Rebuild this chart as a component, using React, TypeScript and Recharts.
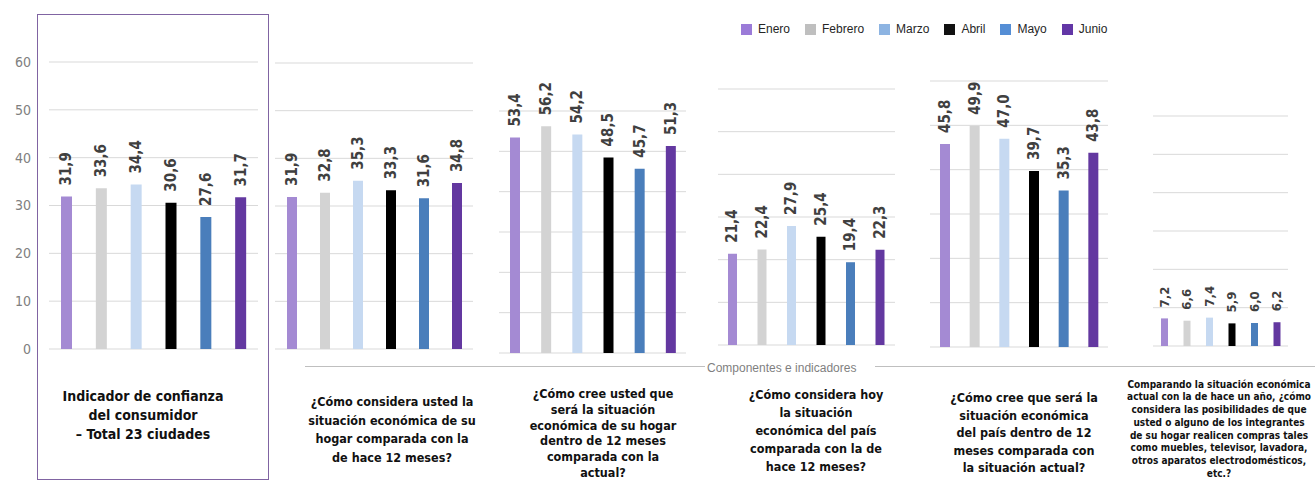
import React from 'react';
import { BarChart, Bar, XAxis, YAxis, CartesianGrid, Cell, LabelList } from 'recharts';

const months = ['Enero', 'Febrero', 'Marzo', 'Abril', 'Mayo', 'Junio'];
const barColors = ['#A48AD3', '#D3D3D3', '#C6D9F1', '#000000', '#4A7EBB', '#6338A0'];
const legendColors = ['#9B7BD8', '#BFBFBF', '#8DB4E2', '#111111', '#558ED5', '#6236A6'];
const yTicks = [0, 10, 20, 30, 40, 50, 60];

const indicadorConfianza = [31.9, 33.6, 34.4, 30.6, 27.6, 31.7];
const hogarPasado = [31.9, 32.8, 35.3, 33.3, 31.6, 34.8];
const hogarFuturo = [53.4, 56.2, 54.2, 48.5, 45.7, 51.3];
const paisPasado = [21.4, 22.4, 27.9, 25.4, 19.4, 22.3];
const paisFuturo = [45.8, 49.9, 47.0, 39.7, 35.3, 43.8];
const compras = [7.2, 6.6, 7.4, 5.9, 6.0, 6.2];

const tituloConfianza = ['Indicador de confianza', 'del consumidor', '– Total 23 ciudades'];
const tituloHogarPasado = ['¿Cómo considera usted la', 'situación económica de su', 'hogar comparada con la', 'de hace 12 meses?'];
const tituloHogarFuturo = ['¿Cómo cree usted que', 'será la situación', 'económica de su hogar', 'dentro de 12 meses', 'comparada con la', 'actual?'];
const tituloPaisPasado = ['¿Cómo considera hoy', 'la situación', 'económica del país', 'comparada con la de', 'hace 12 meses?'];
const tituloPaisFuturo = ['¿Cómo cree que será la', 'situación económica', 'del país dentro de 12', 'meses comparada con', 'la situación actual?'];
const tituloCompras = [
  'Comparando la situación económica',
  'actual con la de hace un año, ¿cómo',
  'considera las posibilidades de que',
  'usted o alguno de los integrantes',
  'de su hogar realicen compras tales',
  'como muebles, televisor, lavadora,',
  'otros aparatos electrodomésticos,',
  'etc.?',
];

const FONT = "'Liberation Sans Narrow', 'DejaVu Sans Condensed', 'Liberation Sans', Arial, sans-serif";
const H = 483;

// layout of each small panel (plot area in page pixels)
const panels = [
  { values: indicadorConfianza, title: tituloConfianza, left: 49, right: 258, top: 62, base: 349, barSize: 11, labelSize: 15, tCx: 143, tTop: 387, tSize: 14, tLine: 19, axis: true },
  { values: hogarPasado, title: tituloHogarPasado, left: 275, right: 473, top: 63, base: 349, barSize: 10, labelSize: 15, tCx: 392, tTop: 393, tSize: 12.5, tLine: 18.5 },
  { values: hogarFuturo, title: tituloHogarFuturo, left: 499, right: 686, top: 111, base: 353, barSize: 10, labelSize: 15, tCx: 603, tTop: 386, tSize: 12.5, tLine: 15.8 },
  { values: paisPasado, title: tituloPaisPasado, left: 718, right: 895, top: 89, base: 345, barSize: 9, labelSize: 15, tCx: 816, tTop: 386, tSize: 12.5, tLine: 18 },
  { values: paisFuturo, title: tituloPaisFuturo, left: 930, right: 1108, top: 81, base: 347, barSize: 10, labelSize: 15, tCx: 1024, tTop: 389, tSize: 12.5, tLine: 17.5 },
  { values: compras, title: tituloCompras, left: 1153, right: 1288, top: 116, base: 346, barSize: 7, labelSize: 13, tCx: 1219, tTop: 378.5, tSize: 10, tLine: 12.8 },
];

const fmt = (v: number) => v.toFixed(1).replace('.', ',');

const rotLabel = (size: number) => (props: any) => {
  const { x, y, width, value } = props;
  const cx = Number(x) + Number(width) / 2;
  const ty = Number(y) - 11;
  return (
    <text
      x={cx}
      y={ty}
      transform={`rotate(-90 ${cx} ${ty})`}
      textAnchor="start"
      dominantBaseline="central"
      fontFamily={FONT}
      fontWeight="bold"
      fontSize={size}
      fill="#404040"
    >
      {fmt(Number(value))}
    </text>
  );
};

const AXIS_W = 40;

const Panel = ({ p }: { p: (typeof panels)[number] }) => {
  const data = months.map((m, i) => ({ mes: m, valor: p.values[i] }));
  const axisW = p.axis ? AXIS_W : 0;
  const w = p.right - p.left + axisW;
  return (
    <div style={{ position: 'absolute', left: p.left - axisW, top: 0 }}>
      <BarChart
        width={w}
        height={H}
        data={data}
        margin={{ top: p.top, bottom: H - p.base, left: 0, right: 0 }}
      >
        <CartesianGrid vertical={false} stroke="#D9D9D9" />
        <XAxis dataKey="mes" hide />
        <YAxis
          hide={!p.axis}
          width={AXIS_W}
          domain={[0, 60]}
          ticks={yTicks}
          axisLine={false}
          tickLine={false}
          tickMargin={12}
          tick={{ fontSize: 14, fill: '#808080', fontFamily: FONT }}
        />
        <Bar dataKey="valor" barSize={p.barSize} isAnimationActive={false}>
          {data.map((d, i) => (
            <Cell key={d.mes} fill={barColors[i]} />
          ))}
          <LabelList dataKey="valor" content={rotLabel(p.labelSize)} />
        </Bar>
      </BarChart>
    </div>
  );
};

const App = () => {
  return (
    <div
      style={{
        position: 'absolute',
        left: 0,
        top: 0,
        width: 1315,
        height: H,
        overflow: 'hidden',
        background: '#fff',
        fontFamily: "'Liberation Sans', Arial, sans-serif",
      }}
    >
      {/* box around the headline indicator */}
      <div
        style={{
          position: 'absolute',
          left: 37,
          top: 14,
          width: 232,
          height: 466,
          border: '1.5px solid #8064A2',
          boxSizing: 'border-box',
        }}
      />

      {panels.map((p, i) => (
        <Panel key={i} p={p} />
      ))}

      {/* separator line with caption */}
      <div style={{ position: 'absolute', left: 305, top: 366, width: 400, height: 1, background: '#BFBFBF' }} />
      <div style={{ position: 'absolute', left: 875, top: 366, width: 440, height: 1, background: '#BFBFBF' }} />
      <div
        style={{
          position: 'absolute',
          left: 707,
          top: 360,
          fontSize: 12,
          color: '#7F7F7F',
          lineHeight: '16px',
          whiteSpace: 'nowrap',
        }}
      >
        Componentes e indicadores
      </div>

      {/* legend */}
      <div
        style={{
          position: 'absolute',
          left: 741,
          top: 21,
          display: 'flex',
          alignItems: 'center',
          gap: 15,
          fontSize: 12,
          color: '#262626',
          whiteSpace: 'nowrap',
        }}
      >
        {months.map((m, i) => (
          <div key={m} style={{ display: 'flex', alignItems: 'center', gap: 6 }}>
            <span style={{ width: 11, height: 11, background: legendColors[i], display: 'inline-block' }} />
            <span style={{ lineHeight: '16px' }}>{m}</span>
          </div>
        ))}
      </div>

      {/* panel titles */}
      {panels.map((p, i) => (
        <div
          key={'t' + i}
          style={{
            position: 'absolute',
            left: p.tCx - 120,
            width: 240,
            top: p.tTop,
            textAlign: 'center',
            fontWeight: 'bold',
            fontSize: p.tSize,
            lineHeight: p.tLine + 'px',
            color: '#111',
            fontFamily: FONT,
            whiteSpace: 'nowrap',
          }}
        >
          {p.title.map((line, j) => (
            <div key={j}>{line}</div>
          ))}
        </div>
      ))}
    </div>
  );
};

export default App;
